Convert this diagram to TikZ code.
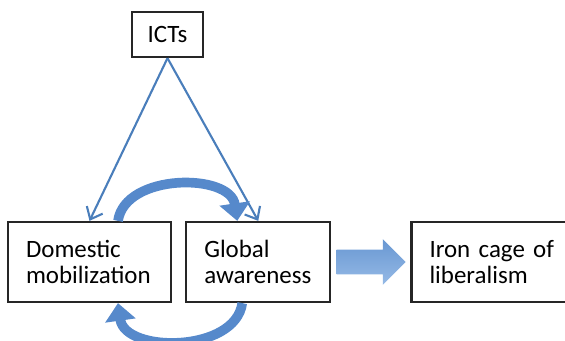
\documentclass[tikz,border=0pt]{standalone}
\usepackage{fontspec}
\setmainfont{Carlito}
\usetikzlibrary{arrows.meta}
\usetikzlibrary{shapes.arrows}
\usetikzlibrary{positioning}
\definecolor{linkblue}{RGB}{74,126,187}
\definecolor{loopblue}{RGB}{86,137,203}
\definecolor{arrowtop}{RGB}{104,151,210}
\definecolor{arrowbot}{RGB}{150,186,230}

\begin{document}
\begin{tikzpicture}
      [x=0.02cm, y=-0.02cm,
        boxtext/.style={font=\fontsize{14.2}{14.6}\selectfont},
        box/.style={boxtext, draw=black!85, line width=1.3pt, text width=#1,
          align=left, inner xsep=0.36cm, minimum height=1.6cm},
        link/.style={draw=linkblue, line width=1.2pt,
          -{Straight Barb[length=6pt,width=10pt]}},
        feedback/.style={draw=loopblue, line width=5.5pt,
          -{Triangle[length=10pt,width=17pt]}}]
  \useasboundingbox (0,0) rectangle (565,341);
  \node[boxtext, draw=black!85, line width=1.3pt, inner sep=0,
    minimum width=1.42cm, minimum height=0.9cm] (ict) at (167.5,34.5) {ICTs};
  \node[box=2.54cm] (dom) at (89.5,262) {Domestic\\mobilization};
  \node[box=2.16cm, right=0.26cm of dom] (glob) {Global\\awareness};
  \node[box=2.4cm, right=1.58cm of glob] (iron) {Iron~cage~of\\liberalism};
  \node[single arrow, single arrow head extend=0.21cm,
    inner xsep=0, inner ysep=0.24cm, minimum height=1.38cm,
    top color=arrowtop, bottom color=arrowbot, right=0.1cm of glob] (push) {};

  \draw[link] (ict.south) -- (dom.north);
  \draw[link] (ict.south) -- (glob.north);

  \draw[feedback] ([xshift=0.57cm]dom.north)
    .. controls +(0.14cm,0.96cm) and +(-0.14cm,0.96cm) .. ([xshift=-0.42cm]glob.north);
  \draw[feedback] ([xshift=-0.32cm]glob.south)
    .. controls +(-0.14cm,-1.0cm) and +(0.14cm,-1.0cm) .. ([xshift=0.57cm]dom.south);
\end{tikzpicture}
\end{document}
